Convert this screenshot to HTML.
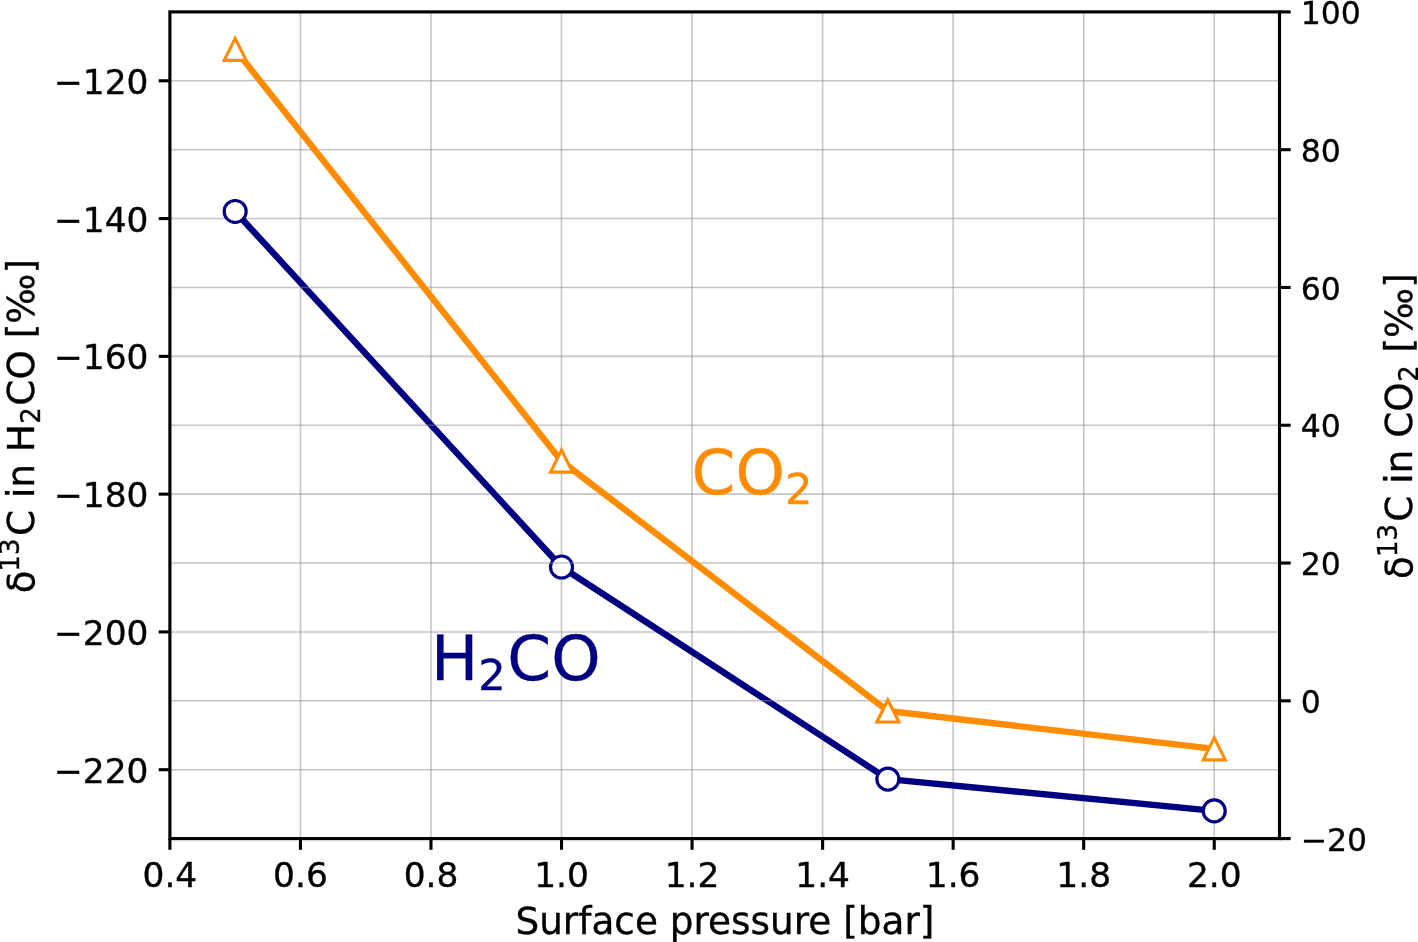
<!DOCTYPE html>
<html lang="en"><head><meta charset="utf-8"><title>Isotope fractionation vs surface pressure</title>
<style>html,body{margin:0;padding:0;background:#fff;}body{width:1418px;height:942px;overflow:hidden;}svg{display:block;}text{font-family:"DejaVu Sans", "Liberation Sans", sans-serif;fill:#000;stroke:#000;stroke-width:0.35px;}</style></head><body>
<svg width="1418" height="942" viewBox="0 0 1418 942">
<rect width="1418" height="942" fill="#fff"/>
<g stroke="#8c8c8c" stroke-opacity="0.5" stroke-width="1.57" fill="none">
<line x1="169.9" y1="11.9" x2="169.9" y2="838.6"/>
<line x1="300.44" y1="11.9" x2="300.44" y2="838.6"/>
<line x1="430.98" y1="11.9" x2="430.98" y2="838.6"/>
<line x1="561.52" y1="11.9" x2="561.52" y2="838.6"/>
<line x1="692.06" y1="11.9" x2="692.06" y2="838.6"/>
<line x1="822.61" y1="11.9" x2="822.61" y2="838.6"/>
<line x1="953.15" y1="11.9" x2="953.15" y2="838.6"/>
<line x1="1083.69" y1="11.9" x2="1083.69" y2="838.6"/>
<line x1="1214.23" y1="11.9" x2="1214.23" y2="838.6"/>
<line x1="169.9" y1="80.79" x2="1279.5" y2="80.79"/>
<line x1="169.9" y1="218.58" x2="1279.5" y2="218.58"/>
<line x1="169.9" y1="356.36" x2="1279.5" y2="356.36"/>
<line x1="169.9" y1="494.14" x2="1279.5" y2="494.14"/>
<line x1="169.9" y1="631.93" x2="1279.5" y2="631.93"/>
<line x1="169.9" y1="769.71" x2="1279.5" y2="769.71"/>
</g>
<polyline points="235.17,211.48 561.52,567.03 887.88,779.08 1214.23,810.91" fill="none" stroke="#000080" stroke-width="6.4" stroke-linejoin="round" stroke-linecap="butt"/>
<circle cx="235.17" cy="211.48" r="11.0" fill="#fff" stroke="#000080" stroke-width="3.15"/>
<circle cx="561.52" cy="567.03" r="11.0" fill="#fff" stroke="#000080" stroke-width="3.15"/>
<circle cx="887.88" cy="779.08" r="11.0" fill="#fff" stroke="#000080" stroke-width="3.15"/>
<circle cx="1214.23" cy="810.91" r="11.0" fill="#fff" stroke="#000080" stroke-width="3.15"/>
<text font-size="62.8" style="fill:#000080;stroke:#000080"><tspan x="430.9" y="679.6">H</tspan><tspan x="478.3" y="690" font-size="43.2">2</tspan><tspan x="507.3" y="679.6">CO</tspan></text>
<g stroke="#8c8c8c" stroke-opacity="0.5" stroke-width="1.57" fill="none">
<line x1="169.9" y1="11.9" x2="1279.5" y2="11.9"/>
<line x1="169.9" y1="149.68" x2="1279.5" y2="149.68"/>
<line x1="169.9" y1="287.47" x2="1279.5" y2="287.47"/>
<line x1="169.9" y1="425.25" x2="1279.5" y2="425.25"/>
<line x1="169.9" y1="563.03" x2="1279.5" y2="563.03"/>
<line x1="169.9" y1="700.82" x2="1279.5" y2="700.82"/>
<line x1="169.9" y1="838.6" x2="1279.5" y2="838.6"/>
</g>
<polyline points="235.17,49.38 561.52,461.14 887.88,711.01 1214.23,748.83" fill="none" stroke="#ff8c00" stroke-width="6.4" stroke-linejoin="round" stroke-linecap="butt"/>
<path d="M235.17 38.38L224.17 60.38L246.17 60.38Z" fill="#fff" stroke="#ff8c00" stroke-width="3.15" stroke-linejoin="miter" stroke-miterlimit="10"/>
<path d="M561.52 450.14L550.52 472.14L572.52 472.14Z" fill="#fff" stroke="#ff8c00" stroke-width="3.15" stroke-linejoin="miter" stroke-miterlimit="10"/>
<path d="M887.88 700.01L876.88 722.01L898.88 722.01Z" fill="#fff" stroke="#ff8c00" stroke-width="3.15" stroke-linejoin="miter" stroke-miterlimit="10"/>
<path d="M1214.23 737.83L1203.23 759.83L1225.23 759.83Z" fill="#fff" stroke="#ff8c00" stroke-width="3.15" stroke-linejoin="miter" stroke-miterlimit="10"/>
<text font-size="62.8" style="fill:#ff8c00;stroke:#ff8c00"><tspan x="691.6" y="493.7">CO</tspan><tspan x="785" y="503.6" font-size="43.2">2</tspan></text>
<g stroke="#000" stroke-width="3.1" fill="none">
<line x1="169.9" y1="838.6" x2="169.9" y2="849.8"/>
<line x1="300.44" y1="838.6" x2="300.44" y2="849.8"/>
<line x1="430.98" y1="838.6" x2="430.98" y2="849.8"/>
<line x1="561.52" y1="838.6" x2="561.52" y2="849.8"/>
<line x1="692.06" y1="838.6" x2="692.06" y2="849.8"/>
<line x1="822.61" y1="838.6" x2="822.61" y2="849.8"/>
<line x1="953.15" y1="838.6" x2="953.15" y2="849.8"/>
<line x1="1083.69" y1="838.6" x2="1083.69" y2="849.8"/>
<line x1="1214.23" y1="838.6" x2="1214.23" y2="849.8"/>
<line x1="169.9" y1="80.79" x2="158.7" y2="80.79"/>
<line x1="169.9" y1="218.58" x2="158.7" y2="218.58"/>
<line x1="169.9" y1="356.36" x2="158.7" y2="356.36"/>
<line x1="169.9" y1="494.14" x2="158.7" y2="494.14"/>
<line x1="169.9" y1="631.93" x2="158.7" y2="631.93"/>
<line x1="169.9" y1="769.71" x2="158.7" y2="769.71"/>
<line x1="1279.5" y1="11.9" x2="1290.7" y2="11.9"/>
<line x1="1279.5" y1="149.68" x2="1290.7" y2="149.68"/>
<line x1="1279.5" y1="287.47" x2="1290.7" y2="287.47"/>
<line x1="1279.5" y1="425.25" x2="1290.7" y2="425.25"/>
<line x1="1279.5" y1="563.03" x2="1290.7" y2="563.03"/>
<line x1="1279.5" y1="700.82" x2="1290.7" y2="700.82"/>
<line x1="1279.5" y1="838.6" x2="1290.7" y2="838.6"/>
</g>
<rect x="169.9" y="11.9" width="1109.6" height="826.7" fill="none" stroke="#000" stroke-width="3.15" stroke-linejoin="miter"/>
<g font-size="34.4">
<text x="169.9" y="886.5" text-anchor="middle">0.4</text>
<text x="300.44" y="886.5" text-anchor="middle">0.6</text>
<text x="430.98" y="886.5" text-anchor="middle">0.8</text>
<text x="561.52" y="886.5" text-anchor="middle">1.0</text>
<text x="692.06" y="886.5" text-anchor="middle">1.2</text>
<text x="822.61" y="886.5" text-anchor="middle">1.4</text>
<text x="953.15" y="886.5" text-anchor="middle">1.6</text>
<text x="1083.69" y="886.5" text-anchor="middle">1.8</text>
<text x="1214.23" y="886.5" text-anchor="middle">2.0</text>
<text x="148.5" y="93.89" text-anchor="end">−120</text>
<text x="148.5" y="231.68" text-anchor="end">−140</text>
<text x="148.5" y="369.46" text-anchor="end">−160</text>
<text x="148.5" y="507.24" text-anchor="end">−180</text>
<text x="148.5" y="645.03" text-anchor="end">−200</text>
<text x="148.5" y="782.81" text-anchor="end">−220</text>
<text x="1300.7" y="23.95" font-size="31.5" text-anchor="start">100</text>
<text x="1300.7" y="161.73" font-size="31.5" text-anchor="start">80</text>
<text x="1300.7" y="299.52" font-size="31.5" text-anchor="start">60</text>
<text x="1300.7" y="437.3" font-size="31.5" text-anchor="start">40</text>
<text x="1300.7" y="575.08" font-size="31.5" text-anchor="start">20</text>
<text x="1300.7" y="712.87" font-size="31.5" text-anchor="start">0</text>
<text x="1300.7" y="850.65" font-size="31.5" text-anchor="start">−20</text>
</g>
<text x="724.9" y="934.1" font-size="37.4" text-anchor="middle">Surface pressure [bar]</text>
<text transform="translate(33.6,0) rotate(-90)" font-size="37.4"><tspan x="-593.2" y="0">δ</tspan><tspan x="-571.4" y="-14.5" font-size="25.9">13</tspan><tspan x="-536.1" y="0">C in H</tspan><tspan x="-423.8" y="6.2" font-size="25.9">2</tspan><tspan x="-405.7" y="0">CO [‰]</tspan></text>
<text transform="translate(1411.5,0) rotate(-90)" font-size="37.4"><tspan x="-579" y="0">δ</tspan><tspan x="-557" y="-14.5" font-size="25.9">13</tspan><tspan x="-521.8" y="0">C in CO</tspan><tspan x="-381.8" y="6.2" font-size="25.9">2</tspan><tspan x="-352.6" y="0">[‰]</tspan></text>
</svg></body></html>
